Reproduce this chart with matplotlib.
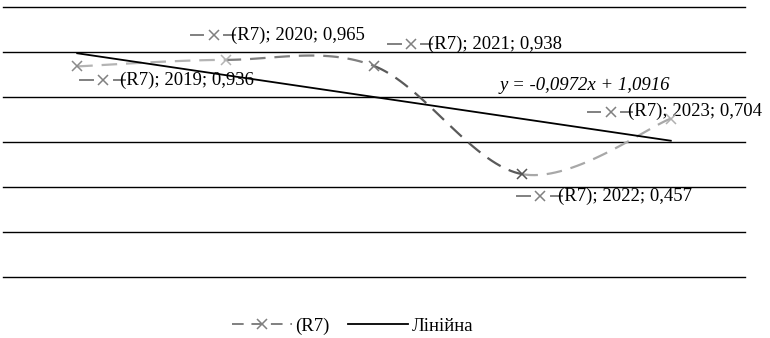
import numpy as np
import matplotlib
matplotlib.use("Agg")
import matplotlib.pyplot as plt
from matplotlib.lines import Line2D
from matplotlib.offsetbox import AnnotationBbox, DrawingArea, TextArea, HPacker

plt.rcParams['font.family'] = ['Liberation Serif', 'DejaVu Serif']

# дані
years = [2019, 2020, 2021, 2022, 2023]
values = [0.936, 0.965, 0.938, 0.457, 0.704]
series_name = '(R7)'
trend_k = -0.0972
trend_b = 1.0916
y_ticks = [0.0, 0.2, 0.4, 0.6, 0.8, 1.0, 1.2]

seg_colors = ['#b4b4b4', '#7f7f7f', '#5a5a5a', '#a8a8a8']
marker_colors = ['#8a8a8a', '#b4b4b4', '#7a7a7a', '#555555', '#b0b0b0']
# зміщення підписів (px)
label_offsets = [(3, -14), (-35, 25), (14, 22), (-5, -22), (-83, 7)]
FS = 13.5


def smooth(x, y, n=40):
    # згладжування як в Excel (Catmull-Rom)
    pts = np.column_stack([x, y]).astype(float)
    p = np.vstack([pts[0], pts, pts[-1]])
    segs = []
    for i in range(1, len(p) - 2):
        p0, p1, p2, p3 = p[i - 1], p[i], p[i + 1], p[i + 2]
        c1 = p1 + (p2 - p0) / 6
        c2 = p2 - (p3 - p1) / 6
        t = np.linspace(0, 1, n)[:, None]
        b = ((1 - t) ** 3) * p1 + 3 * ((1 - t) ** 2) * t * c1 + 3 * (1 - t) * t ** 2 * c2 + t ** 3 * p2
        segs.append(b)
    return segs


fig = plt.figure(figsize=(7.7, 3.38), dpi=100)
ax = fig.add_axes([3 / 770, 1 - 277 / 338, 742 / 770, 270 / 338])

x = np.arange(1, len(years) + 1)
ax.set_xlim(0.5, len(years) + 0.5)
ax.set_ylim(0, 1.2)
ax.set_yticks(y_ticks)
ax.set_xticks([])
ax.tick_params(left=False, labelleft=False)
ax.grid(axis='y', color='black', linewidth=1.0)
for gl in ax.get_ygridlines():
    gl.set_clip_on(False)
ax.set_axisbelow(True)
for s in ax.spines.values():
    s.set_visible(False)

for i, seg in enumerate(smooth(x, values)):
    ax.plot(seg[:, 0], seg[:, 1], color=seg_colors[i], lw=1.6, dashes=(7, 4), zorder=3)
for i in range(len(x)):
    ax.plot(x[i], values[i], marker='x', ms=7, mew=1.1, color=marker_colors[i], ls='none', zorder=4)

ax.plot(x[[0, -1]], trend_k * x[[0, -1]] + trend_b, color='black', lw=1.3, zorder=3)
fig.text(500 / 770, 1 - 86 / 338, 'y = -0,0972x + 1,0916', style='italic',
         fontsize=FS, va='center', ha='left')

for i in range(len(x)):
    da = DrawingArea(32, 10, 0, 0)
    da.add_artist(Line2D([0, 9], [5, 5], color='#808080', lw=1.4))
    da.add_artist(Line2D([24, 32], [5, 5], color='#808080', lw=1.4))
    da.add_artist(Line2D([16.5], [5], marker='x', ms=7, mew=1.1, color='#808080'))
    txt = TextArea(f'{series_name}; {years[i]}; {values[i]:.3f}'.replace('.', ','),
                   textprops=dict(fontsize=FS))
    box = HPacker(children=[da, txt], align='center', pad=0, sep=-3)
    ab = AnnotationBbox(box, (x[i], values[i]), xybox=label_offsets[i], boxcoords='offset pixels',
                        box_alignment=(0, 0.5), frameon=False, pad=0)
    ax.add_artist(ab)

h1 = Line2D([], [], color='#808080', lw=1.4, dashes=(6, 4), marker='x', ms=7, mew=1.1)
h2 = Line2D([], [], color='black', lw=1.3)
fig.legend([h1, h2], [series_name, 'Лінійна'], loc='center', bbox_to_anchor=(0.458, 1 - 326 / 338),
           ncol=2, frameon=False, fontsize=FS, handlelength=3.2, columnspacing=1.0, handletextpad=0.2)

fig.savefig('out.png', dpi=100)
